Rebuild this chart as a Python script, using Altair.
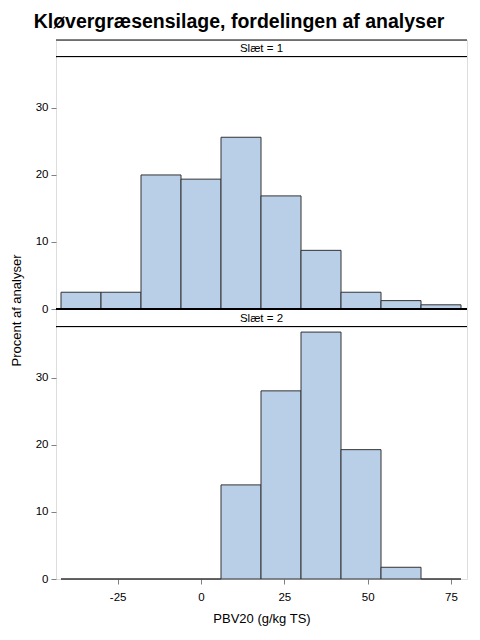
import altair as alt
import pandas as pd

# ---- data ----
bin_start = [-42, -30, -18, -6, 6, 18, 30, 42, 54, 66]
bin_width = 12
pct_slaet1 = [2.5, 2.5, 20.0, 19.375, 25.625, 16.875, 8.75, 2.5, 1.25, 0.625]
pct_slaet2 = [0.0, 0.0, 0.0, 0.0, 14.04, 28.07, 36.84, 19.30, 1.75, 0.0]
strip_labels = ["Slæt = 1", "Slæt = 2"]
x_ticks = [-25, 0, 25, 50, 75]
y_ticks = [0, 10, 20, 30]
title_text = "Kløvergræsensilage, fordelingen af analyser"
x_title = "PBV20 (g/kg TS)"
y_title = "Procent af analyser"

FONT = "Liberation Sans"
W = 411
H = 252
FILL = "#B9CFE7"
EDGE = "#333333"

x_scale = alt.Scale(domain=[-43.5, 79.8], nice=False, zero=False)
y_scale = alt.Scale(domain=[0, 37.6], nice=False)


def panel(pcts, show_x, show_ytitle):
    df = pd.DataFrame({
        "start": bin_start,
        "end": [s + bin_width for s in bin_start],
        "pct": pcts,
        "zero": [0] * len(bin_start),
    })
    if show_x:
        x_axis = alt.Axis(values=x_ticks, title=x_title, domain=False, grid=False,
                          labelExpr="toString(datum.value)",
                          tickColor="#808080", tickSize=5, labelPadding=7,
                          labelFont=FONT, labelFontSize=11.5, labelColor="black",
                          titleFont=FONT, titleFontSize=13, titleFontWeight="normal",
                          titleColor="black", titlePadding=10)
    else:
        x_axis = None
    y_kwargs = dict(values=y_ticks, domain=False, grid=False,
                    tickColor="#808080", tickSize=5, labelPadding=3,
                    labelFont=FONT, labelFontSize=11.5, labelColor="black",
                    titleFont=FONT, titleFontSize=13, titleFontWeight="normal",
                    titleColor="black")
    if show_ytitle:
        y_axis = alt.Axis(title=y_title, titleX=-40, titleY=H + 1,
                          titleAngle=270, titleAlign="center", titleBaseline="middle",
                          **y_kwargs)
    else:
        y_axis = alt.Axis(title="", **y_kwargs)
    bars = alt.Chart(df).mark_rect(fill=FILL, stroke=EDGE, strokeWidth=1).encode(
        x=alt.X("start:Q", scale=x_scale, axis=x_axis),
        x2="end:Q",
        y=alt.Y("pct:Q", scale=y_scale, axis=y_axis),
        y2="zero:Q",
    )
    return bars.properties(width=W, height=H)


def strip(label, h, top_w, bottom_w):
    df = pd.DataFrame({"label": [label]})
    base = alt.Chart(df)
    text = base.mark_text(font=FONT, fontSize=11.5, color="black",
                          baseline="middle", align="center").encode(
        text="label:N", x=alt.value(W / 2), y=alt.value(h / 2 + 0.5))
    top = base.mark_rule(color="black", strokeWidth=top_w).encode(
        x=alt.value(0), x2=alt.value(W), y=alt.value(0))
    bottom = base.mark_rule(color="black", strokeWidth=bottom_w).encode(
        x=alt.value(0), x2=alt.value(W), y=alt.value(h))
    return alt.layer(text, top, bottom).properties(width=W, height=h)


chart = alt.vconcat(
    strip(strip_labels[0], 17, 1, 2),
    panel(pct_slaet1, False, True),
    strip(strip_labels[1], 18, 2, 2),
    panel(pct_slaet2, True, False),
    spacing=0,
    bounds="flush",
).properties(
    title=alt.Title(title_text, font=FONT, fontSize=19.5, fontWeight="bold",
                    color="black", anchor="middle", offset=7),
    padding={"left": 1, "top": 3, "right": 2, "bottom": 0},
).configure_view(stroke="black", strokeWidth=1).configure(background="white")

chart.save("out.html", embed_options={"renderer": "svg", "actions": False})
